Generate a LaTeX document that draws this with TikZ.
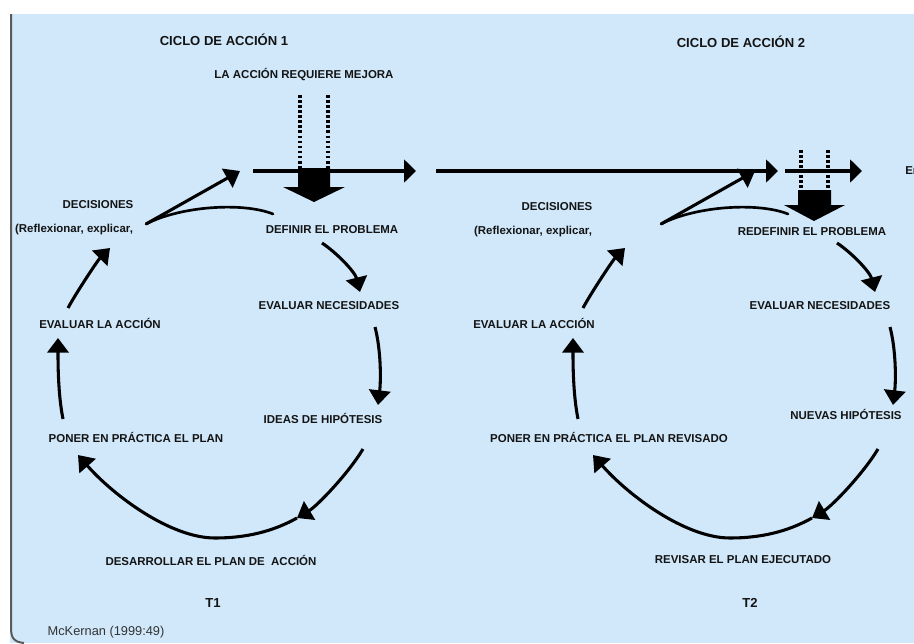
\documentclass[tikz,border=0pt]{standalone}
\usepackage{fontspec}
\setmainfont{Liberation Sans}
\usetikzlibrary{arrows.meta}
\definecolor{fondo}{HTML}{D0E8FA}
\definecolor{borde}{HTML}{5A5A5A}
\definecolor{tinta}{HTML}{141414}
\begin{document}
\begin{tikzpicture}[x=0.75pt,y=-0.75pt,
	etiq/.style={inner sep=0pt,text=tinta,font=\bfseries\fontsize{8.6}{10}\selectfont},
	titulo/.style={inner sep=0pt,text=tinta,font=\bfseries\fontsize{9.8}{11}\selectfont},
	cita/.style={inner sep=0pt,text=black!80,font=\fontsize{9.6}{11}\selectfont},
	flecha/.style={line width=2.3pt,-{Triangle[length=11pt,width=16pt]}},
	retorno/.style={line width=2pt,line cap=round},
	tiempo/.style={line width=3pt,-{Triangle[length=9pt,width=17pt]}},
	punteado/.style={line width=2.4pt,dash pattern=on 2pt off 1.8pt}]
	% Fondo
	\useasboundingbox (0,0) rectangle (914,643);
	\fill[fondo] (10,14) rectangle (914,643);
	\draw[borde,line width=1.5pt] (11,14) -- (11,628) .. controls (11,638) and (14,642) .. (24,643);

	% Ciclo 1
	\node[titulo] (tit1) at (224,40) {CICLO DE ACCIÓN 1};
	\node[etiq] (mejora) at (304,75) {LA ACCIÓN REQUIERE MEJORA};
	\node[etiq] (dec1) at (98,205) {DECISIONES};
	\node[etiq] (refl1) at (74,230) {(Reflexionar, explicar,};
	\node[etiq] (def1) at (332,230) {DEFINIR EL PROBLEMA};
	\node[etiq] (nec1) at (329,306) {EVALUAR NECESIDADES};
	\node[etiq] (hip1) at (323,418) {IDEAS DE HIPÓTESIS};
	\node[etiq] (des1) at (211,560) {DESARROLLAR EL PLAN DE\ \ ACCIÓN};
	\node[etiq] (pon1) at (136,437) {PONER EN PRÁCTICA EL PLAN};
	\node[etiq] (eva1) at (100,323) {EVALUAR LA ACCIÓN};
	\node[titulo] (t1) at (213,603) {T1};
	\node[cita] (fuente) at (106,632) {McKernan (1999:49)};

	% Ciclo 2
	\node[titulo] (tit2) at (741,42) {CICLO DE ACCIÓN 2};
	\node[etiq] (dec2) at (557,207) {DECISIONES};
	\node[etiq] (refl2) at (533,232) {(Reflexionar, explicar,};
	\node[etiq] (def2) at (812,232) {REDEFINIR EL PROBLEMA};
	\node[etiq] (nec2) at (820,306) {EVALUAR NECESIDADES};
	\node[etiq] (hip2) at (846,414) {NUEVAS HIPÓTESIS};
	\node[etiq] (rev2) at (743,560) {REVISAR EL PLAN EJECUTADO};
	\node[etiq] (pon2) at (609,437) {PONER EN PRÁCTICA EL PLAN REVISADO};
	\node[etiq] (eva2) at (534,323) {EVALUAR LA ACCIÓN};
	\node[titulo] (t2) at (750,603) {T2};
	\node[etiq,anchor=west] (en) at (905,171) {En};

	% Linea de tiempo
	\coordinate (ini1) at (253,171);
	\coordinate (fin1) at (416,171);
	\coordinate (ini2) at (436,171);
	\coordinate (fin2) at (778,171);
	\coordinate (ini3) at (785,171);
	\coordinate (fin3) at (862,171);
	\draw[tiempo] (ini1) -- (fin1);
	\draw[tiempo] (ini2) -- (fin2);
	\draw[tiempo] (ini3) -- (fin3);

	% Mejora de la accion
	\draw[punteado] (300,95) -- (300,168);
	\draw[punteado] (328,95) -- (328,168);
	\draw[punteado] (801,150) -- (801,190);
	\draw[punteado] (828,150) -- (828,190);
	\fill (298,168) -- (330,168) -- (330,187) -- (345,187) -- (314,202) -- (283,187) -- (298,187) -- cycle;
	\fill (798,190) -- (831,190) -- (831,205) -- (845,205) -- (814,221) -- (784,205) -- (798,205) -- cycle;

	% Flechas de los ciclos
	\foreach \c/\dx in {1/0,2/515}{
		\coordinate (a\c) at (\dx+146,224);
		\coordinate (b\c) at (\dx+240,171);
		\coordinate (c\c) at (\dx+273,214);
		\coordinate (d\c) at (\dx+322,243);
		\coordinate (e\c) at (\dx+360,292);
		\coordinate (f\c) at (\dx+375,327);
		\coordinate (g\c) at (\dx+378,405);
		\coordinate (h\c) at (\dx+363,449);
		\coordinate (i\c) at (\dx+297,518);
		\coordinate (j\c) at (\dx+215,538);
		\coordinate (k\c) at (\dx+78,455);
		\coordinate (l\c) at (\dx+63,419);
		\coordinate (m\c) at (\dx+58,338);
		\coordinate (n\c) at (\dx+68,308);
		\coordinate (o\c) at (\dx+110,248);
		\draw[flecha] (a\c) -- (b\c);
		\draw[retorno] (c\c) .. controls +(-30,-12) and +(35,-18) .. (a\c);
		\draw[flecha] (d\c) .. controls +(15,10) and +(-5,-20) .. (e\c);
		\draw[flecha] (f\c) .. controls +(6,23) and +(3,-25) .. (g\c);
		\draw[flecha] (h\c) .. controls +(-15,25) and +(20,-12) .. (i\c);
		\draw[flecha] (i\c) .. controls +(-25,14) and +(30,0) .. (j\c) .. controls +(-45,0) and +(35,40) .. (k\c);
		\draw[flecha] (l\c) .. controls +(-5,-25) and +(0,25) .. (m\c);
		\draw[flecha] (n\c) .. controls +(8,-15) and +(-12,12) .. (o\c);
	}
\end{tikzpicture}
\end{document}
